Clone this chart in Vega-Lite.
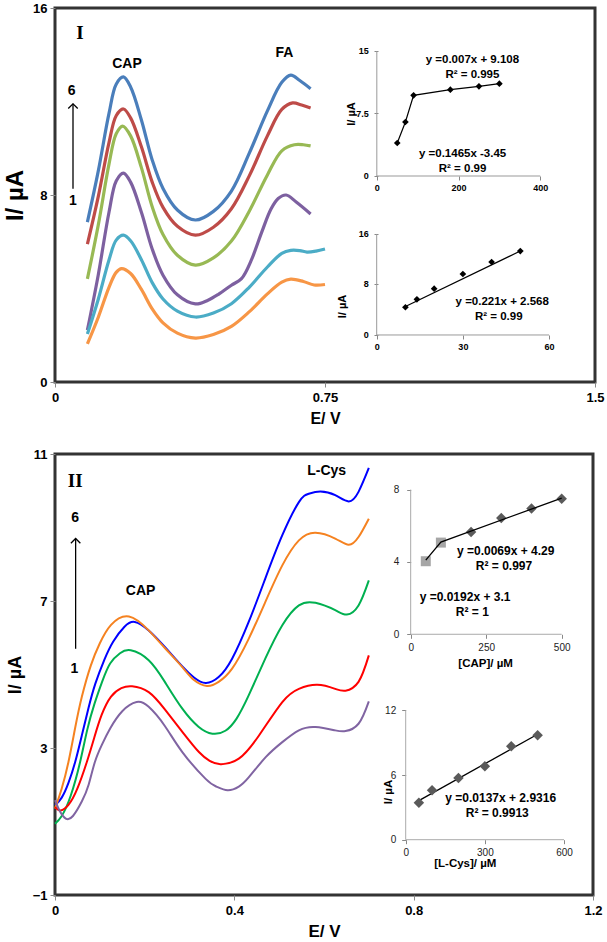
{
"$schema": "https://vega.github.io/schema/vega-lite/v6.json",
"background": "white",
"padding": {"left": 2, "top": 0, "right": 0, "bottom": 0},
"config": {
  "font": "Liberation Sans",
  "view": {"stroke": "#333333", "strokeWidth": 3},
  "axis": {"grid": false, "domain": false, "labelOverlap": false, "labelFlush": false, "labelFont": "Liberation Sans", "titleFont": "Liberation Sans", "labelFontWeight": "bold", "titleFontWeight": "bold", "labelColor": "#000000", "titleColor": "#000000", "tickColor": "#888888"},
  "text": {"font": "Liberation Sans"}
},
"datasets": {
  "cvTop": [
    {"c":"6","E":0.09,"I":6.84},{"c":"6","E":0.12,"I":9.01},{"c":"6","E":0.15,"I":11.49},{"c":"6","E":0.17,"I":12.74},{"c":"6","E":0.19,"I":13.05},{"c":"6","E":0.21,"I":12.62},{"c":"6","E":0.24,"I":11.21},{"c":"6","E":0.27,"I":9.5},{"c":"6","E":0.30,"I":8.28},{"c":"6","E":0.34,"I":7.36},{"c":"6","E":0.39,"I":6.93},{"c":"6","E":0.44,"I":7.3},{"c":"6","E":0.49,"I":8.17},{"c":"6","E":0.54,"I":9.8},{"c":"6","E":0.59,"I":11.6},{"c":"6","E":0.63,"I":12.82},{"c":"6","E":0.655,"I":13.13},{"c":"6","E":0.68,"I":12.9},{"c":"6","E":0.71,"I":12.55},
    {"c":"5","E":0.09,"I":5.9},{"c":"5","E":0.12,"I":7.92},{"c":"5","E":0.15,"I":10.24},{"c":"5","E":0.17,"I":11.39},{"c":"5","E":0.19,"I":11.68},{"c":"5","E":0.21,"I":11.3},{"c":"5","E":0.24,"I":10.06},{"c":"5","E":0.27,"I":8.55},{"c":"5","E":0.30,"I":7.47},{"c":"5","E":0.34,"I":6.66},{"c":"5","E":0.39,"I":6.28},{"c":"5","E":0.44,"I":6.62},{"c":"5","E":0.49,"I":7.41},{"c":"5","E":0.54,"I":8.83},{"c":"5","E":0.59,"I":10.53},{"c":"5","E":0.63,"I":11.66},{"c":"5","E":0.66,"I":11.94},{"c":"5","E":0.685,"I":11.85},{"c":"5","E":0.71,"I":11.72},
    {"c":"4","E":0.09,"I":4.41},{"c":"4","E":0.12,"I":6.7},{"c":"4","E":0.15,"I":9.32},{"c":"4","E":0.17,"I":10.62},{"c":"4","E":0.188,"I":10.95},{"c":"4","E":0.21,"I":10.53},{"c":"4","E":0.24,"I":9.17},{"c":"4","E":0.27,"I":7.5},{"c":"4","E":0.30,"I":6.31},{"c":"4","E":0.34,"I":5.42},{"c":"4","E":0.39,"I":5.0},{"c":"4","E":0.44,"I":5.31},{"c":"4","E":0.49,"I":6.03},{"c":"4","E":0.54,"I":7.32},{"c":"4","E":0.59,"I":8.86},{"c":"4","E":0.63,"I":9.89},{"c":"4","E":0.665,"I":10.15},{"c":"4","E":0.69,"I":10.15},{"c":"4","E":0.71,"I":10.1},
    {"c":"3","E":0.09,"I":2.22},{"c":"3","E":0.12,"I":4.57},{"c":"3","E":0.15,"I":7.26},{"c":"3","E":0.17,"I":8.6},{"c":"3","E":0.19,"I":8.94},{"c":"3","E":0.21,"I":8.55},{"c":"3","E":0.24,"I":7.26},{"c":"3","E":0.27,"I":5.69},{"c":"3","E":0.30,"I":4.57},{"c":"3","E":0.34,"I":3.73},{"c":"3","E":0.39,"I":3.34},{"c":"3","E":0.425,"I":3.5},{"c":"3","E":0.454,"I":3.75},{"c":"3","E":0.49,"I":4.14},{"c":"3","E":0.518,"I":4.42},{"c":"3","E":0.545,"I":5.2},{"c":"3","E":0.574,"I":6.4},{"c":"3","E":0.60,"I":7.4},{"c":"3","E":0.62,"I":7.85},{"c":"3","E":0.642,"I":8.0},{"c":"3","E":0.67,"I":7.7},{"c":"3","E":0.71,"I":7.19},
    {"c":"2","E":0.09,"I":2.05},{"c":"2","E":0.12,"I":3.53},{"c":"2","E":0.15,"I":5.22},{"c":"2","E":0.17,"I":6.07},{"c":"2","E":0.19,"I":6.28},{"c":"2","E":0.21,"I":6.04},{"c":"2","E":0.24,"I":5.23},{"c":"2","E":0.27,"I":4.25},{"c":"2","E":0.30,"I":3.55},{"c":"2","E":0.34,"I":3.03},{"c":"2","E":0.39,"I":2.78},{"c":"2","E":0.44,"I":2.95},{"c":"2","E":0.49,"I":3.35},{"c":"2","E":0.54,"I":4.06},{"c":"2","E":0.59,"I":4.92},{"c":"2","E":0.63,"I":5.5},{"c":"2","E":0.655,"I":5.63},{"c":"2","E":0.68,"I":5.62},{"c":"2","E":0.70,"I":5.56},{"c":"2","E":0.725,"I":5.6},{"c":"2","E":0.75,"I":5.69},
    {"c":"1","E":0.09,"I":1.63},{"c":"1","E":0.12,"I":2.76},{"c":"1","E":0.15,"I":4.05},{"c":"1","E":0.17,"I":4.69},{"c":"1","E":0.185,"I":4.85},{"c":"1","E":0.21,"I":4.64},{"c":"1","E":0.24,"I":3.96},{"c":"1","E":0.27,"I":3.13},{"c":"1","E":0.30,"I":2.53},{"c":"1","E":0.34,"I":2.09},{"c":"1","E":0.39,"I":1.88},{"c":"1","E":0.44,"I":2.03},{"c":"1","E":0.49,"I":2.38},{"c":"1","E":0.54,"I":3.01},{"c":"1","E":0.59,"I":3.77},{"c":"1","E":0.63,"I":4.27},{"c":"1","E":0.655,"I":4.4},{"c":"1","E":0.69,"I":4.3},{"c":"1","E":0.72,"I":4.15},{"c":"1","E":0.75,"I":4.17}
  ],
  "txtTop": [{"E":0.2,"I":13.62,"t":"CAP"},{"E":0.637,"I":14.09,"t":"FA"},{"E":0.046,"I":12.44,"t":"6"},{"E":0.05,"I":7.73,"t":"1"}],
  "romTop": [{"E":0.069,"I":14.93,"t":"I"}],
  "arrTop": [{"E":0.05,"I":8.27,"I2":11.9}],
  "ax1": [{"x":0,"y":0,"x2":400,"y2":0},{"x":0,"y":0,"x2":0,"y2":15}],
  "yl1": [{"x":0,"y":0,"t":"0"},{"x":0,"y":7.5,"t":"7.5"},{"x":0,"y":15,"t":"15"}],
  "in1": [{"x":50,"y":3.96},{"x":70,"y":6.48},{"x":90,"y":9.68},{"x":180,"y":10.36},{"x":250,"y":10.76},{"x":300,"y":11.08}],
  "eq1": [{"x":234,"y":13.9,"t":"y =0.007x + 9.108"},{"x":234,"y":12.1,"t":"R² = 0.995"},{"x":210,"y":2.64,"t":"y =0.1465x -3.45"},{"x":210,"y":0.84,"t":"R² = 0.99"}],
  "ti1": [{"x":-60,"y":7.44,"t":"I/ µA"}],
  "ax2": [{"x":0,"y":0,"x2":60,"y2":0},{"x":0,"y":0,"x2":0,"y2":16}],
  "yl2": [{"x":0,"y":0,"t":"0"},{"x":0,"y":8,"t":"8"},{"x":0,"y":16,"t":"16"}],
  "in2": [{"x":10,"y":4.39},{"x":14,"y":5.65},{"x":20,"y":7.34},{"x":30,"y":9.66},{"x":40,"y":11.56},{"x":50,"y":13.3}],
  "tr2": [{"x":10,"y":4.5},{"x":50,"y":13.3}],
  "eq2": [{"x":43.7,"y":5.23,"t":"y =0.221x + 2.568"},{"x":42.5,"y":2.85,"t":"R² = 0.99"}],
  "ti2": [{"x":-11.8,"y":4.5,"t":"I/ µA"}],
  "cvBot": [
    {"c":"5","E":0,"I":1.44},{"c":"5","E":0.015,"I":1.65},{"c":"5","E":0.03,"I":2.05},{"c":"5","E":0.045,"I":2.62},{"c":"5","E":0.06,"I":3.35},{"c":"5","E":0.075,"I":4.1},{"c":"5","E":0.09,"I":4.75},{"c":"5","E":0.11,"I":5.4},{"c":"5","E":0.13,"I":5.9},{"c":"5","E":0.155,"I":6.3},{"c":"5","E":0.178,"I":6.43},{"c":"5","E":0.209,"I":6.2},{"c":"5","E":0.245,"I":5.75},{"c":"5","E":0.284,"I":5.22},{"c":"5","E":0.31,"I":4.92},{"c":"5","E":0.336,"I":4.77},{"c":"5","E":0.365,"I":4.93},{"c":"5","E":0.395,"I":5.43},{"c":"5","E":0.432,"I":6.43},{"c":"5","E":0.469,"I":7.61},{"c":"5","E":0.507,"I":8.79},{"c":"5","E":0.544,"I":9.69},{"c":"5","E":0.566,"I":9.92},{"c":"5","E":0.592,"I":9.98},{"c":"5","E":0.625,"I":9.88},{"c":"5","E":0.655,"I":9.71},{"c":"5","E":0.677,"I":9.97},{"c":"5","E":0.7,"I":10.62},
    {"c":"4","E":0,"I":1.35},{"c":"4","E":0.015,"I":1.9},{"c":"4","E":0.03,"I":2.62},{"c":"4","E":0.045,"I":3.55},{"c":"4","E":0.06,"I":4.4},{"c":"4","E":0.08,"I":5.25},{"c":"4","E":0.1,"I":5.85},{"c":"4","E":0.125,"I":6.35},{"c":"4","E":0.165,"I":6.58},{"c":"4","E":0.209,"I":6.2},{"c":"4","E":0.245,"I":5.72},{"c":"4","E":0.284,"I":5.2},{"c":"4","E":0.31,"I":4.85},{"c":"4","E":0.339,"I":4.69},{"c":"4","E":0.365,"I":4.8},{"c":"4","E":0.395,"I":5.16},{"c":"4","E":0.432,"I":5.97},{"c":"4","E":0.469,"I":6.97},{"c":"4","E":0.507,"I":7.97},{"c":"4","E":0.544,"I":8.65},{"c":"4","E":0.581,"I":8.86},{"c":"4","E":0.625,"I":8.7},{"c":"4","E":0.655,"I":8.53},{"c":"4","E":0.677,"I":8.74},{"c":"4","E":0.7,"I":9.24},
    {"c":"3","E":0,"I":0.94},{"c":"3","E":0.015,"I":1.15},{"c":"3","E":0.035,"I":1.7},{"c":"3","E":0.056,"I":2.62},{"c":"3","E":0.072,"I":3.5},{"c":"3","E":0.088,"I":4.2},{"c":"3","E":0.105,"I":4.8},{"c":"3","E":0.123,"I":5.3},{"c":"3","E":0.145,"I":5.58},{"c":"3","E":0.169,"I":5.66},{"c":"3","E":0.209,"I":5.39},{"c":"3","E":0.245,"I":4.8},{"c":"3","E":0.284,"I":4.07},{"c":"3","E":0.32,"I":3.58},{"c":"3","E":0.351,"I":3.39},{"c":"3","E":0.38,"I":3.47},{"c":"3","E":0.405,"I":3.8},{"c":"3","E":0.432,"I":4.43},{"c":"3","E":0.469,"I":5.43},{"c":"3","E":0.507,"I":6.34},{"c":"3","E":0.544,"I":6.88},{"c":"3","E":0.581,"I":6.95},{"c":"3","E":0.625,"I":6.75},{"c":"3","E":0.651,"I":6.63},{"c":"3","E":0.677,"I":6.88},{"c":"3","E":0.7,"I":7.56},
    {"c":"2","E":0,"I":1.39},{"c":"2","E":0.012,"I":1.3},{"c":"2","E":0.03,"I":1.45},{"c":"2","E":0.05,"I":1.9},{"c":"2","E":0.071,"I":2.62},{"c":"2","E":0.088,"I":3.3},{"c":"2","E":0.104,"I":3.9},{"c":"2","E":0.125,"I":4.4},{"c":"2","E":0.148,"I":4.63},{"c":"2","E":0.172,"I":4.68},{"c":"2","E":0.209,"I":4.52},{"c":"2","E":0.245,"I":4.05},{"c":"2","E":0.284,"I":3.44},{"c":"2","E":0.321,"I":2.89},{"c":"2","E":0.345,"I":2.65},{"c":"2","E":0.369,"I":2.56},{"c":"2","E":0.41,"I":2.71},{"c":"2","E":0.455,"I":3.34},{"c":"2","E":0.507,"I":4.25},{"c":"2","E":0.544,"I":4.61},{"c":"2","E":0.585,"I":4.72},{"c":"2","E":0.625,"I":4.61},{"c":"2","E":0.648,"I":4.56},{"c":"2","E":0.677,"I":4.8},{"c":"2","E":0.7,"I":5.52},
    {"c":"1","E":0,"I":1.58},{"c":"1","E":0.01,"I":1.3},{"c":"1","E":0.024,"I":1.08},{"c":"1","E":0.04,"I":1.15},{"c":"1","E":0.06,"I":1.55},{"c":"1","E":0.075,"I":2.0},{"c":"1","E":0.089,"I":2.62},{"c":"1","E":0.105,"I":3.1},{"c":"1","E":0.123,"I":3.53},{"c":"1","E":0.15,"I":4.0},{"c":"1","E":0.182,"I":4.25},{"c":"1","E":0.209,"I":4.12},{"c":"1","E":0.245,"I":3.6},{"c":"1","E":0.284,"I":2.89},{"c":"1","E":0.336,"I":2.16},{"c":"1","E":0.36,"I":1.95},{"c":"1","E":0.385,"I":1.85},{"c":"1","E":0.41,"I":1.95},{"c":"1","E":0.432,"I":2.2},{"c":"1","E":0.47,"I":2.75},{"c":"1","E":0.507,"I":3.16},{"c":"1","E":0.544,"I":3.48},{"c":"1","E":0.581,"I":3.57},{"c":"1","E":0.625,"I":3.48},{"c":"1","E":0.648,"I":3.46},{"c":"1","E":0.677,"I":3.66},{"c":"1","E":0.7,"I":4.27}
  ],
  "txtBot": [{"E":0.606,"I":10.54,"t":"L-Cys"},{"E":0.191,"I":7.26,"t":"CAP"},{"E":0.045,"I":9.26,"t":"6"},{"E":0.043,"I":5.14,"t":"1"}],
  "romBot": [{"E":0.045,"I":10.27,"t":"II"}],
  "arrBot": [{"E":0.046,"I":5.7,"I2":8.7}],
  "axA": [{"x":0,"y":0,"x2":500,"y2":0},{"x":0,"y":0,"x2":0,"y2":8}],
  "sqA": [{"x":50,"y":4.04},{"x":100,"y":5.07}],
  "diA": [{"x":200,"y":5.66},{"x":300,"y":6.43},{"x":400,"y":6.95},{"x":500,"y":7.5}],
  "trA": [{"x":50,"y":4.1},{"x":100,"y":5.1},{"x":500,"y":7.53}],
  "eqA": [{"x":314.6,"y":4.59,"t":"y =0.0069x + 4.29"},{"x":309,"y":3.78,"t":"R² = 0.997"},{"x":180,"y":2.06,"t":"y =0.0192x + 3.1"},{"x":204,"y":1.23,"t":"R² = 1"}],
  "xtA": [{"x":248,"y":-1.63,"t":"[CAP]/ µM"}],
  "axB": [{"x":0,"y":0,"x2":600,"y2":0},{"x":0,"y":0,"x2":0,"y2":12}],
  "diB": [{"x":50,"y":3.43},{"x":100,"y":4.58},{"x":200,"y":5.72},{"x":300,"y":6.81},{"x":400,"y":8.66},{"x":500,"y":9.68}],
  "trB": [{"x":50,"y":3.62},{"x":500,"y":9.78}],
  "eqB": [{"x":360,"y":3.87,"t":"y =0.0137x + 2.9316"},{"x":347,"y":2.5,"t":"R² = 0.9913"}],
  "xtB": [{"x":226,"y":-2.22,"t":"[L-Cys]/ µM"}],
  "tiB": [{"x":-63,"y":4.42,"t":"I/ µA"}]
},
"spacing": 18,
"resolve": {"scale": {"color": "independent"}},
"vconcat": [
  {
    "width": 540, "height": 374,
    "resolve": {"scale": {"x": "independent", "y": "independent"}},
    "layer": [
      {
        "encoding": {
          "x": {"field": "E", "type": "quantitative", "scale": {"domain": [0, 1.5], "nice": false, "zero": false}, "axis": {"orient": "bottom", "values": [0, 0.75, 1.5], "format": "~g", "title": "E/ V", "labelFontSize": 13, "titleFontSize": 16, "tickSize": 5, "labelPadding": 4, "titlePadding": 6}},
          "y": {"field": "I", "type": "quantitative", "scale": {"domain": [0, 16], "nice": false, "zero": false}, "axis": {"orient": "left", "values": [0, 8, 16], "title": "I/ µA", "labelFontSize": 13, "titleFontSize": 24, "tickSize": 5, "labelPadding": 3, "titlePadding": 5}}
        },
        "layer": [
          {"data": {"name": "cvTop"}, "mark": {"type": "line", "interpolate": "catmull-rom", "strokeWidth": 3.2}, "encoding": {"color": {"field": "c", "type": "nominal", "scale": {"domain": ["1","2","3","4","5","6"], "range": ["#f79646","#4bacc6","#7d60a0","#98b954","#be4b48","#4a7ebb"]}, "legend": null}}},
          {"data": {"name": "arrTop"}, "mark": {"type": "rule", "color": "black", "strokeWidth": 1.3}, "encoding": {"y2": {"field": "I2"}}},
          {"data": {"name": "arrTop"}, "mark": {"type": "point", "shape": "M-1,1L0,0L1,1", "filled": false, "size": 90, "color": "black", "strokeWidth": 1.3, "opacity": 1}, "encoding": {"y": {"field": "I2", "type": "quantitative"}}},
          {"data": {"name": "txtTop"}, "mark": {"type": "text", "fontWeight": "bold", "fontSize": 14, "color": "black"}, "encoding": {"text": {"field": "t"}}},
          {"data": {"name": "romTop"}, "mark": {"type": "text", "font": "Liberation Serif", "fontWeight": "bold", "fontSize": 19, "color": "black"}, "encoding": {"text": {"field": "t"}}}
        ]
      },
      {
        "encoding": {
          "x": {"field": "x", "type": "quantitative", "scale": {"domain": [-787.8, 534.1], "nice": false, "zero": false}, "axis": {"orient": "bottom", "offset": -206, "values": [0, 200, 400], "format": "d", "title": null, "labelFontSize": 9, "tickSize": 4, "labelPadding": 3}},
          "y": {"field": "y", "type": "quantitative", "scale": {"domain": [-24.72, 20.16], "nice": false, "zero": false}, "axis": {"orient": "left", "offset": -323, "values": [0, 7.5, 15], "title": null, "labels": false, "tickSize": 4}}
        },
        "layer": [
          {"data": {"name": "ax1"}, "mark": {"type": "rule", "color": "#999999", "strokeWidth": 1}, "encoding": {"x2": {"field": "x2"}, "y2": {"field": "y2"}}},
          {"data": {"name": "yl1"}, "mark": {"type": "text", "fontWeight": "bold", "fontSize": 9, "align": "right", "baseline": "middle", "dx": -8, "color": "black"}, "encoding": {"text": {"field": "t"}}},
          {"data": {"name": "in1"}, "mark": {"type": "line", "color": "black", "strokeWidth": 1.2}},
          {"data": {"name": "in1"}, "mark": {"type": "point", "shape": "diamond", "filled": true, "color": "black", "size": 45, "opacity": 1}},
          {"data": {"name": "eq1"}, "mark": {"type": "text", "fontWeight": "bold", "fontSize": 11.5, "color": "black"}, "encoding": {"text": {"field": "t"}}},
          {"data": {"name": "ti1"}, "mark": {"type": "text", "fontWeight": "bold", "fontSize": 11, "angle": 270, "color": "black"}, "encoding": {"text": {"field": "t"}}}
        ]
      },
      {
        "encoding": {
          "x": {"field": "x", "type": "quantitative", "scale": {"domain": [-112.0, 76.0], "nice": false, "zero": false}, "axis": {"orient": "bottom", "offset": -47, "values": [0, 30, 60], "format": "d", "title": null, "labelFontSize": 9, "tickSize": 4, "labelPadding": 3}},
          "y": {"field": "y", "type": "quantitative", "scale": {"domain": [-7.45, 51.8], "nice": false, "zero": false}, "axis": {"orient": "left", "offset": -323, "values": [0, 8, 16], "title": null, "labels": false, "tickSize": 4}}
        },
        "layer": [
          {"data": {"name": "ax2"}, "mark": {"type": "rule", "color": "#999999", "strokeWidth": 1}, "encoding": {"x2": {"field": "x2"}, "y2": {"field": "y2"}}},
          {"data": {"name": "yl2"}, "mark": {"type": "text", "fontWeight": "bold", "fontSize": 9, "align": "right", "baseline": "middle", "dx": -8, "color": "black"}, "encoding": {"text": {"field": "t"}}},
          {"data": {"name": "tr2"}, "mark": {"type": "line", "color": "black", "strokeWidth": 1.2}},
          {"data": {"name": "in2"}, "mark": {"type": "point", "shape": "diamond", "filled": true, "color": "black", "size": 45, "opacity": 1}},
          {"data": {"name": "eq2"}, "mark": {"type": "text", "fontWeight": "bold", "fontSize": 11.5, "color": "black"}, "encoding": {"text": {"field": "t"}}},
          {"data": {"name": "ti2"}, "mark": {"type": "text", "fontWeight": "bold", "fontSize": 11, "angle": 270, "color": "black"}, "encoding": {"text": {"field": "t"}}}
        ]
      }
    ]
  },
  {
    "width": 538, "height": 441,
    "resolve": {"scale": {"x": "independent", "y": "independent"}},
    "layer": [
      {
        "encoding": {
          "x": {"field": "E", "type": "quantitative", "scale": {"domain": [0, 1.2], "nice": false, "zero": false}, "axis": {"orient": "bottom", "values": [0, 0.4, 0.8, 1.2], "format": "~g", "title": "E/ V", "labelFontSize": 13, "titleFontSize": 17, "tickSize": 5, "labelPadding": 4, "titlePadding": 6}},
          "y": {"field": "I", "type": "quantitative", "scale": {"domain": [-1, 11], "nice": false, "zero": false}, "axis": {"orient": "left", "values": [-1, 3, 7, 11], "format": "d", "title": "I/ µA", "labelFontSize": 13, "titleFontSize": 18, "tickSize": 5, "labelPadding": 3, "titlePadding": 8}}
        },
        "layer": [
          {"data": {"name": "cvBot"}, "mark": {"type": "line", "interpolate": "natural", "strokeWidth": 2}, "encoding": {"color": {"field": "c", "type": "nominal", "scale": {"domain": ["1","2","3","4","5"], "range": ["#8064a2","#ff0000","#00b050","#f58220","#0000ff"]}, "legend": null}}},
          {"data": {"name": "arrBot"}, "mark": {"type": "rule", "color": "black", "strokeWidth": 1.3}, "encoding": {"y2": {"field": "I2"}}},
          {"data": {"name": "arrBot"}, "mark": {"type": "point", "shape": "M-1,1L0,0L1,1", "filled": false, "size": 90, "color": "black", "strokeWidth": 1.3, "opacity": 1}, "encoding": {"y": {"field": "I2", "type": "quantitative"}}},
          {"data": {"name": "txtBot"}, "mark": {"type": "text", "fontWeight": "bold", "fontSize": 14, "color": "black"}, "encoding": {"text": {"field": "t"}}},
          {"data": {"name": "romBot"}, "mark": {"type": "text", "font": "Liberation Serif", "fontWeight": "bold", "fontSize": 19, "color": "black"}, "encoding": {"text": {"field": "t"}}}
        ]
      },
      {
        "encoding": {
          "x": {"field": "x", "type": "quantitative", "scale": {"domain": [-1177.8, 603.7], "nice": false, "zero": false}, "axis": {"orient": "bottom", "offset": -260.7, "values": [0, 250, 500], "format": "d", "title": null, "labelFontSize": 10, "labelFontWeight": "normal", "labelColor": "#222222", "tickSize": 4, "labelPadding": 4}},
          "y": {"field": "y", "type": "quantitative", "scale": {"domain": [-14.42, 9.97], "nice": false, "zero": false}, "axis": {"orient": "left", "offset": -355.7, "values": [0, 4, 8], "format": "d", "title": null, "labelFontSize": 10, "labelFontWeight": "normal", "labelColor": "#222222", "tickSize": 4, "labelPadding": 8}}
        },
        "layer": [
          {"data": {"name": "axA"}, "mark": {"type": "rule", "color": "#aaaaaa", "strokeWidth": 1}, "encoding": {"x2": {"field": "x2"}, "y2": {"field": "y2"}}},
          {"data": {"name": "sqA"}, "mark": {"type": "point", "shape": "square", "filled": true, "color": "#a6a6a6", "size": 100, "opacity": 1}},
          {"data": {"name": "diA"}, "mark": {"type": "point", "shape": "diamond", "filled": true, "color": "#5a5a5a", "size": 110, "opacity": 1}},
          {"data": {"name": "trA"}, "mark": {"type": "line", "color": "black", "strokeWidth": 1.3}},
          {"data": {"name": "eqA"}, "mark": {"type": "text", "fontWeight": "bold", "fontSize": 12, "color": "black"}, "encoding": {"text": {"field": "t"}}},
          {"data": {"name": "xtA"}, "mark": {"type": "text", "fontWeight": "bold", "fontSize": 11.5, "color": "black"}, "encoding": {"text": {"field": "t"}}}
        ]
      },
      {
        "encoding": {
          "x": {"field": "x", "type": "quantitative", "scale": {"domain": [-1328.9, 709.8], "nice": false, "zero": false}, "axis": {"orient": "bottom", "offset": -55.3, "values": [0, 300, 600], "format": "d", "title": null, "labelFontSize": 10, "labelFontWeight": "normal", "labelColor": "#222222", "tickSize": 4, "labelPadding": 4}},
          "y": {"field": "y", "type": "quantitative", "scale": {"domain": [-5.13, 35.78], "nice": false, "zero": false}, "axis": {"orient": "left", "offset": -350.7, "values": [0, 6, 12], "format": "d", "title": null, "labelFontSize": 10, "labelFontWeight": "normal", "labelColor": "#222222", "tickSize": 4, "labelPadding": 6}}
        },
        "layer": [
          {"data": {"name": "axB"}, "mark": {"type": "rule", "color": "#aaaaaa", "strokeWidth": 1}, "encoding": {"x2": {"field": "x2"}, "y2": {"field": "y2"}}},
          {"data": {"name": "trB"}, "mark": {"type": "line", "color": "black", "strokeWidth": 1.3}},
          {"data": {"name": "diB"}, "mark": {"type": "point", "shape": "diamond", "filled": true, "color": "#5a5a5a", "size": 110, "opacity": 1}},
          {"data": {"name": "eqB"}, "mark": {"type": "text", "fontWeight": "bold", "fontSize": 12, "color": "black"}, "encoding": {"text": {"field": "t"}}},
          {"data": {"name": "xtB"}, "mark": {"type": "text", "fontWeight": "bold", "fontSize": 11.5, "color": "black"}, "encoding": {"text": {"field": "t"}}},
          {"data": {"name": "tiB"}, "mark": {"type": "text", "fontWeight": "bold", "fontSize": 11.5, "angle": 270, "color": "black"}, "encoding": {"text": {"field": "t"}}}
        ]
      }
    ]
  }
]
}
